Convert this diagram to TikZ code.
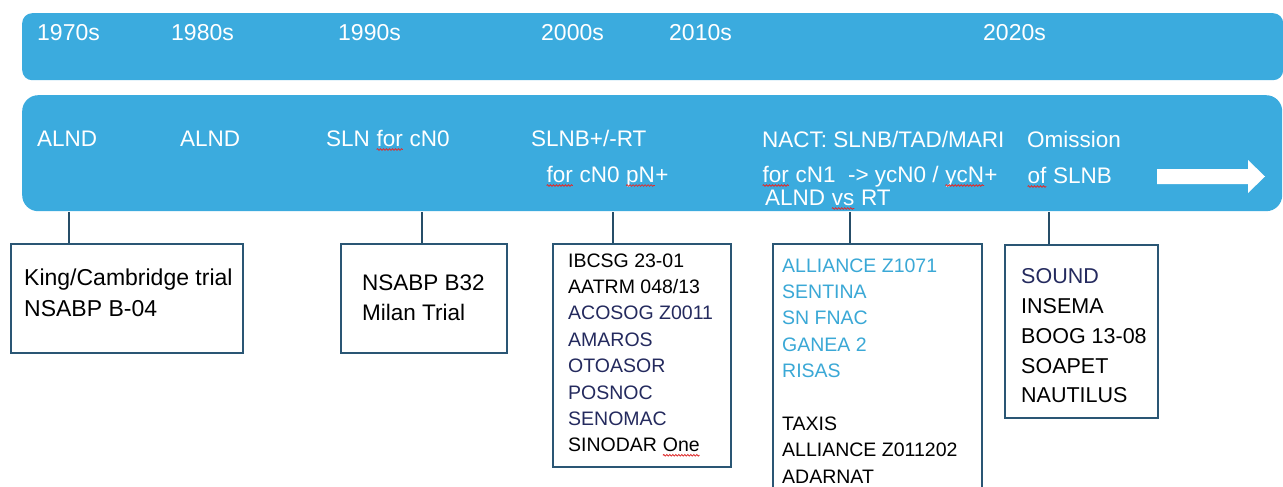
\documentclass[tikz,border=0pt]{standalone}
\usepackage{fontspec}
\setmainfont{Liberation Sans}
\usetikzlibrary{decorations.pathmorphing}
\definecolor{barblue}{RGB}{59,171,222}
\definecolor{boxline}{RGB}{42,86,116}
\definecolor{navy}{RGB}{36,42,94}
\definecolor{lblue}{RGB}{58,168,214}
\definecolor{spellred}{RGB}{222,45,45}
\newcommand\spell[2][white]{\tikz[baseline=(sp.base)]{\node[inner sep=0pt,outer sep=0pt,text=#1](sp){#2};\draw[spellred,line width=0.8pt,decorate,decoration={snake,amplitude=0.8pt,segment length=3pt}]([yshift=-3.5pt]sp.base west)--([yshift=-3.5pt]sp.base east);}}
\tikzset{
  bar/.style={fill=barblue,draw=none,rounded corners=#1,anchor=north west,inner sep=0pt},
  yr/.style={text=white,anchor=base west,inner sep=0pt,font=\fontsize{23}{26}\selectfont},
  ev/.style={text=white,anchor=base west,inner sep=0pt,font=\fontsize{22.5}{26}\selectfont},
  trialbox/.style={draw=boxline,line width=2pt,fill=white,anchor=north west,inner sep=0pt},
  tl/.style={anchor=base west,inner sep=0pt,text=#1},
  conn/.style={draw=boxline!90!black,line width=1.6pt},
}
\begin{document}
\begin{tikzpicture}[x=1pt,y=-1pt]
\useasboundingbox (0,0) rectangle (1283,487);
\clip (0,0) rectangle (1283,487);
% bars
\node[bar=10pt,minimum width=1261pt,minimum height=67pt] (bar1) at (22,13) {};
\node[bar=16pt,minimum width=1260pt,minimum height=116pt] (bar2) at (22,95) {};
% decades
\node[yr] (y70) at (37,41) {1970s};
\node[yr] (y80) at (171,41) {1980s};
\node[yr] (y90) at (338,41) {1990s};
\node[yr] (y00) at (541,41) {2000s};
\node[yr] (y10) at (669,41) {2010s};
\node[yr] (y20) at (983,41) {2020s};
% events
\node[ev] (e1) at (37,146) {ALND};
\node[ev] (e2) at (180,146) {ALND};
\node[ev] (e3) at (326,146) {SLN \spell{for} cN0};
\node[ev] (e4a) at (531,146) {SLNB+/-RT};
\node[ev] (e4b) at (546,182) {\spell{for} cN0 \spell{pN}+};
\node[ev] (e5a) at (762,147) {NACT: SLNB/TAD/MARI};
\node[ev] (e5b) at (762,182) {\spell{for} cN1 \ -> ycN0 / \spell{ycN}+};
\node[ev] (e5c) at (765,205) {ALND \spell{vs} RT};
\node[ev] (e6a) at (1027,147) {Omission};
\node[ev] (e6b) at (1027,183) {\spell{of} SLNB};
\fill[white] (1157,169) -- (1248,169) -- (1248,160) -- (1265,176.5) -- (1248,193) -- (1248,184) -- (1157,184) -- cycle;
% boxes
\node[trialbox,minimum width=232pt,minimum height=109pt] (b1) at (10,243) {};
\node[trialbox,minimum width=166pt,minimum height=109pt] (b2) at (340,243) {};
\node[trialbox,minimum width=178pt,minimum height=223pt] (b3) at (552,243) {};
\node[trialbox,minimum width=209pt,minimum height=260pt] (b4) at (772,243) {};
\node[trialbox,minimum width=153pt,minimum height=173pt] (b5) at (1004,244) {};
% connectors
\draw[conn] (b1.north -| 69,0) coordinate (c1) -- (69,211.5);
\draw[conn] (b2.north -| 422,0) -- (422,211.5);
\draw[conn] (b3.north -| 613,0) -- (613,211.5);
\draw[conn] (b4.north -| 850,0) -- (850,211.5);
\draw[conn] (b5.north -| 1049,0) -- (1049,211.5);
% box 1
\begin{scope}[every node/.append style={font=\fontsize{23}{26}\selectfont}]
\node[tl=black] (t11) at (24,285) {King/Cambridge trial};
\node[tl=black] (t12) at (24,316) {NSABP B-04};
\end{scope}
% box 2
\begin{scope}[every node/.append style={font=\fontsize{22.5}{26}\selectfont}]
\node[tl=black] (t21) at (362,290) {NSABP B32};
\node[tl=black] (t22) at (362,320) {Milan Trial};
\end{scope}
% box 3
\begin{scope}[every node/.append style={font=\fontsize{19.5}{24}\selectfont}]
\node[tl=black] (t31) at (568,267) {IBCSG 23-01};
\node[tl=black] (t32) at (568,293.4) {AATRM 048/13};
\node[tl=navy] (t33) at (568,319.8) {ACOSOG Z0011};
\node[tl=navy] (t34) at (568,346.2) {AMAROS};
\node[tl=navy] (t35) at (568,372.6) {OTOASOR};
\node[tl=navy] (t36) at (568,399) {POSNOC};
\node[tl=navy] (t37) at (568,425.4) {SENOMAC};
\node[tl=black] (t38) at (568,451.8) {SINODAR \spell[black]{One}};
% box 4
\node[tl=lblue] (t41) at (782,272) {ALLIANCE Z1071};
\node[tl=lblue] (t42) at (782,298.4) {SENTINA};
\node[tl=lblue] (t43) at (782,324.8) {SN FNAC};
\node[tl=lblue] (t44) at (782,351.2) {GANEA 2};
\node[tl=lblue] (t45) at (782,377.6) {RISAS};
\node[tl=black] (t46) at (782,430.4) {TAXIS};
\node[tl=black] (t47) at (782,456.8) {ALLIANCE Z011202};
\node[tl=black] (t48) at (782,483.2) {ADARNAT};
\end{scope}
% box 5
\begin{scope}[every node/.append style={font=\fontsize{21.5}{26}\selectfont}]
\node[tl=navy] (t51) at (1021,283) {SOUND};
\node[tl=black] (t52) at (1021,313) {INSEMA};
\node[tl=black] (t53) at (1021,343) {BOOG 13-08};
\node[tl=black] (t54) at (1021,373) {SOAPET};
\node[tl=black] (t55) at (1021,402) {NAUTILUS};
\end{scope}
\end{tikzpicture}
\end{document}
